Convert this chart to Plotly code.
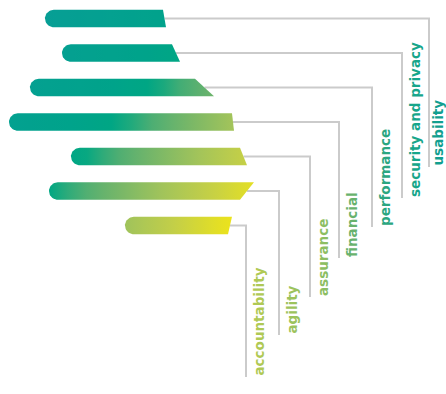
import numpy as np
import plotly.graph_objects as go

# ---------------- data ----------------
categories = ["usability", "security and privacy", "performance", "financial",
              "assurance", "agility", "accountability"]
bar_start = [45, 62, 30, 9, 71, 49, 125]
bar_end = [164.5, 176, 204.5, 233, 243.5, 247, 230]

# ---------------- style ----------------
W, H = 446, 394
ROW0_PX, ROW_STEP_PX = 18.5, 34.5          # pixel centre of first row, row pitch
BAR_H_PX = 17.5
slant_px = [3, 8, 19, 2, 7, -14, -4]       # bottom-right minus top-right
line_x = [429, 402, 372, 339, 310, 279, 246]
label_dx = [8.5, 12.5, 12.5, 12.5, 12.5, 12.5, 12.5]
label_bottom_px = [167, 198, 227, 258, 297, 335, 377]
label_colors = ["#129f8f", "#17a68a", "#2ba680", "#68b26d", "#8cbe62", "#9cc35d", "#afc954"]
LINE_COLOR = "#cbcbcb"

# global diagonal gradient (t = x + y in pixels)
grad_t = [0, 200, 240, 270, 300, 355, 400, 455, 600]
grad_c = ["#0a9c9a", "#00a38a", "#00a783", "#48ad74", "#6db46b", "#a3c45a",
          "#c4cf48", "#ebe31c", "#ebe31c"]


def hex2rgb(h):
    h = h.lstrip("#")
    return [int(h[i:i + 2], 16) for i in (0, 2, 4)]


def grad_color(t):
    rgbs = np.array([hex2rgb(c) for c in grad_c], dtype=float)
    r = [np.interp(t, grad_t, rgbs[:, k]) for k in range(3)]
    return "rgb(%d,%d,%d)" % tuple(int(round(v)) for v in r)


def px_to_row(py):
    return (py - ROW0_PX) / ROW_STEP_PX


y_range = [px_to_row(H), px_to_row(0)]
half_h = BAR_H_PX / 2 / ROW_STEP_PX
r_px = BAR_H_PX / 2

fig = go.Figure()

# connector lines (drawn first, under bars)
for i, cat in enumerate(categories):
    fig.add_trace(go.Scatter(
        x=[bar_end[i], line_x[i], line_x[i]],
        y=[i, i, px_to_row(label_bottom_px[i])],
        mode="lines", line=dict(color=LINE_COLOR, width=2),
        hoverinfo="skip", showlegend=False))

# bars with rounded left end and slanted right end
for i, cat in enumerate(categories):
    xs, xe = bar_start[i], bar_end[i]
    s = slant_px[i]
    top_r = xe - s / 2
    bot_r = xe + s / 2
    theta = np.linspace(0, np.pi, 25)
    cx = xs + r_px
    arc_x = cx - r_px * np.sin(theta)
    arc_y = i - half_h * np.cos(theta)
    xs_path = list(arc_x) + [bot_r, top_r, arc_x[0]]
    ys_path = list(arc_y) + [i + half_h, i - half_h, arc_y[0]]
    xmax = max(top_r, bot_r)
    yc_px = ROW0_PX + ROW_STEP_PX * i
    stops = np.linspace(0, 1, 12)
    cs = [[float(p), grad_color(xs + p * (xmax - xs) + yc_px)] for p in stops]
    fig.add_trace(go.Scatter(
        x=xs_path, y=ys_path, mode="lines", fill="toself",
        line=dict(width=0, color="rgba(0,0,0,0)"),
        fillgradient=dict(type="horizontal", colorscale=cs, start=xs, stop=xmax),
        hoverinfo="skip", showlegend=False, name=cat))

# rotated labels
for i, cat in enumerate(categories):
    fig.add_annotation(
        x=line_x[i] + label_dx[i], y=px_to_row(label_bottom_px[i]),
        xref="x", yref="y", text=cat, showarrow=False, textangle=-90,
        xanchor="center", yanchor="bottom", borderpad=0,
        font=dict(family="DejaVu Sans", size=13.5, color=label_colors[i], weight="bold"))

fig.update_layout(
    width=W, height=H, margin=dict(l=0, r=0, t=0, b=0),
    paper_bgcolor="white", plot_bgcolor="white",
    xaxis=dict(range=[0, W], visible=False, fixedrange=True),
    yaxis=dict(range=y_range, visible=False, fixedrange=True),
    showlegend=False)

fig.write_html("out.html", post_script="document.body.style.margin='0';",
               config={"displayModeBar": False})
